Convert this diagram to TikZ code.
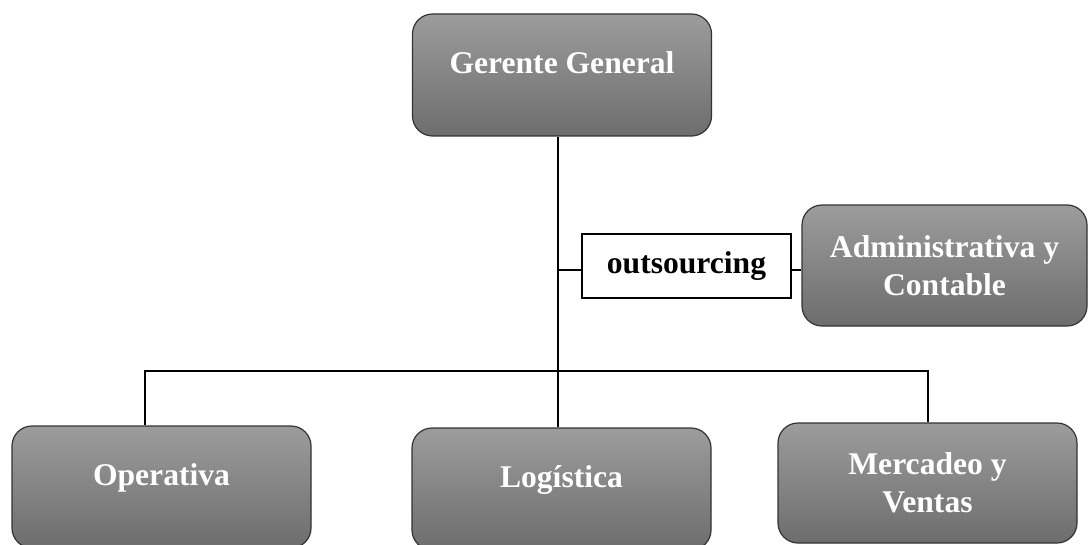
\documentclass[tikz,border=0pt]{standalone}
\usepackage{fontspec}
\setmainfont{Liberation Serif}
\usetikzlibrary{positioning}
\definecolor{boxtop}{HTML}{9C9C9C}
\definecolor{boxbot}{HTML}{6D6D6D}
\begin{document}
\begin{tikzpicture}[x=0.5pt,y=-0.5pt,every node/.style={font=\fontsize{15.8}{18.8}\selectfont\bfseries},
 unit/.style={draw=black!80,line width=0.6pt,rounded corners=10pt,top color=boxtop,bottom color=boxbot,text=white,align=center,minimum width=149.5pt,minimum height=61pt,inner sep=2pt},
 one/.style={text depth=12pt},
 tag/.style={draw,line width=0.6pt,fill=white,minimum width=104.5pt,minimum height=32pt,inner sep=2pt}]
\useasboundingbox (0,0) rectangle (1090,545);
\node[unit,one](gg) at (562,75){Gerente General};
\node[unit,minimum width=142.5pt,minimum height=60.5pt](adm) at (944.5,265.5){Administrativa y\\Contable};
\node[tag](out) at (686.5,266){outsourcing};
\node[unit,one](op) at (161.5,487){Operativa};
\node[unit,one](log) at (561.5,489){Logística};
\node[unit,minimum height=60pt](mv) at (927.5,483){Mercadeo y\\Ventas};
\coordinate(hub) at (558,371);\coordinate(oj) at (558,270);
\coordinate(lt) at (145,371);\coordinate(rt) at (928,371);
\draw[line width=0.75pt](hub |- gg.south)--(hub)--(hub |- log.north);
\draw[line width=0.75pt](lt |- op.north)--(lt)--(rt)--(rt |- mv.north);
\draw[line width=0.75pt](oj)--(oj -| out.west);\draw[line width=0.75pt](out.east |- oj)--(oj -| adm.west);
\end{tikzpicture}
\end{document}
